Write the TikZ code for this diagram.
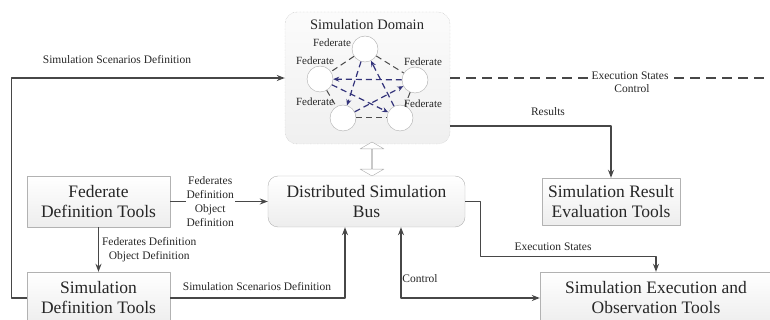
\documentclass[tikz,border=0pt]{standalone}
\usepackage{fontspec}
\setmainfont{Liberation Serif}
\usetikzlibrary{arrows.meta,shapes.arrows}
\tikzset{
  toolbox/.style={draw=gray!60, top color=white, bottom color=gray!14, text=black!85, align=center, font=\fontsize{17.5}{20}\selectfont, inner sep=0pt},
  fed/.style={circle, draw=gray!65, fill=white, minimum size=26pt, inner sep=0pt},
  lbl/.style={font=\fontsize{11.5}{14}\selectfont, text=black!85, align=center, inner sep=1pt},
  fedlbl/.style={font=\fontsize{11}{12}\selectfont, text=black!85, inner sep=0pt},
  link/.style={draw=black!72, line width=1.1pt},
}
\begin{document}
\begin{tikzpicture}[x=1pt,y=-1pt,line join=round,>={Stealth[length=8pt,width=6pt]}]
\useasboundingbox (0,0) rectangle (770,320);
\node[draw=gray!60, densely dotted, rounded corners=12pt, top color=gray!3, bottom color=gray!12, minimum width=165pt, minimum height=132pt] (dom) at (367.5,78) {};
\node[font=\fontsize{14.5}{16}\selectfont, text=black!85] (domt) at (367,25) {Simulation Domain};
\node[fed] (f1) at (365,49) {};
\node[fed] (f2) at (320,79) {};
\node[fed] (f3) at (415,80) {};
\node[fed] (f4) at (343,118) {};
\node[fed] (f5) at (400,118) {};
\foreach \a/\b in {f1/f2,f1/f3,f4/f5,f2/f4,f3/f5}
  \draw[black!70, line width=1pt, dash pattern=on 6pt off 4pt] (\a) -- (\b);
\foreach \a/\b in {f3/f2,f2/f5,f5/f1,f1/f4,f4/f3}
  \draw[->, >={Stealth[length=6pt,width=5pt]}, blue!35!black!80, line width=1.2pt, dash pattern=on 6pt off 4pt] (\a) -- (\b);
\node[fedlbl] (l1) at (332,43) {Federate};
\node[fedlbl] (l2) at (315,61) {Federate};
\node[fedlbl] (l3) at (423,62) {Federate};
\node[fedlbl] (l4) at (315,102) {Federate};
\node[fedlbl] (l5) at (423,104) {Federate};
\node[double arrow, draw=gray!65, fill=white, rotate=90, minimum height=34pt, minimum width=24pt, double arrow head extend=5.5pt, double arrow tip angle=120, inner sep=0pt] (dbl) at (372,159) {};
\node[toolbox, minimum width=143pt, minimum height=51pt] (fdt) at (98.5,201.5) {Federate\\Definition Tools};
\node[toolbox, minimum width=143pt, minimum height=52pt] (sdt) at (98.5,298) {Simulation\\Definition Tools};
\node[toolbox, rounded corners=10pt, minimum width=197pt, minimum height=51pt] (bus) at (366.5,201.5) {Distributed Simulation\\Bus};
\node[toolbox, minimum width=138pt, minimum height=47pt] (sret) at (611,201.5) {Simulation Result\\Evaluation Tools};
\node[toolbox, minimum width=232pt, minimum height=52pt] (seot) at (656,298) {Simulation Execution and\\Observation Tools};
\draw[link,->] (fdt) -- node[lbl, pos=0.41, fill=white] (fdl) {Federates\\Definition\\Object\\Definition} (bus);
\draw[link,->] (fdt) -- node[lbl, right=2pt] (fsl) {Federates Definition\\Object Definition} (sdt);
\draw[link,->] (sdt.east) -| ([xshift=-21.5pt]bus.south);
\node[lbl] (ssd1) at (257,287) {Simulation Scenarios Definition};
\draw[link,->] (sdt.west) -- ++(-15,0) |- (dom.west);
\node[lbl] (ssd2) at (117,60) {Simulation Scenarios Definition};
\coordinate (edge) at (770,78);
\draw[link, dash pattern=on 10pt off 6pt] (dom.east) -- (edge);
\node[lbl, fill=white] (esl) at (630,76) {Execution States};
\node[lbl] (ctl) at (632,89) {Control};
\draw[link,->] ([yshift=-48pt]dom.east) -| (sret.north);
\node[lbl] (resl) at (548,112) {Results};
\draw[link,->] (bus.east) -| ++(15,55) -| (seot.north);
\node[lbl] (esl2) at (553,247) {Execution States};
\draw[link,<->] ([xshift=34.5pt]bus.south) |- (seot.west);
\node[lbl] (ctl2) at (420,279) {Control};
\end{tikzpicture}
\end{document}
